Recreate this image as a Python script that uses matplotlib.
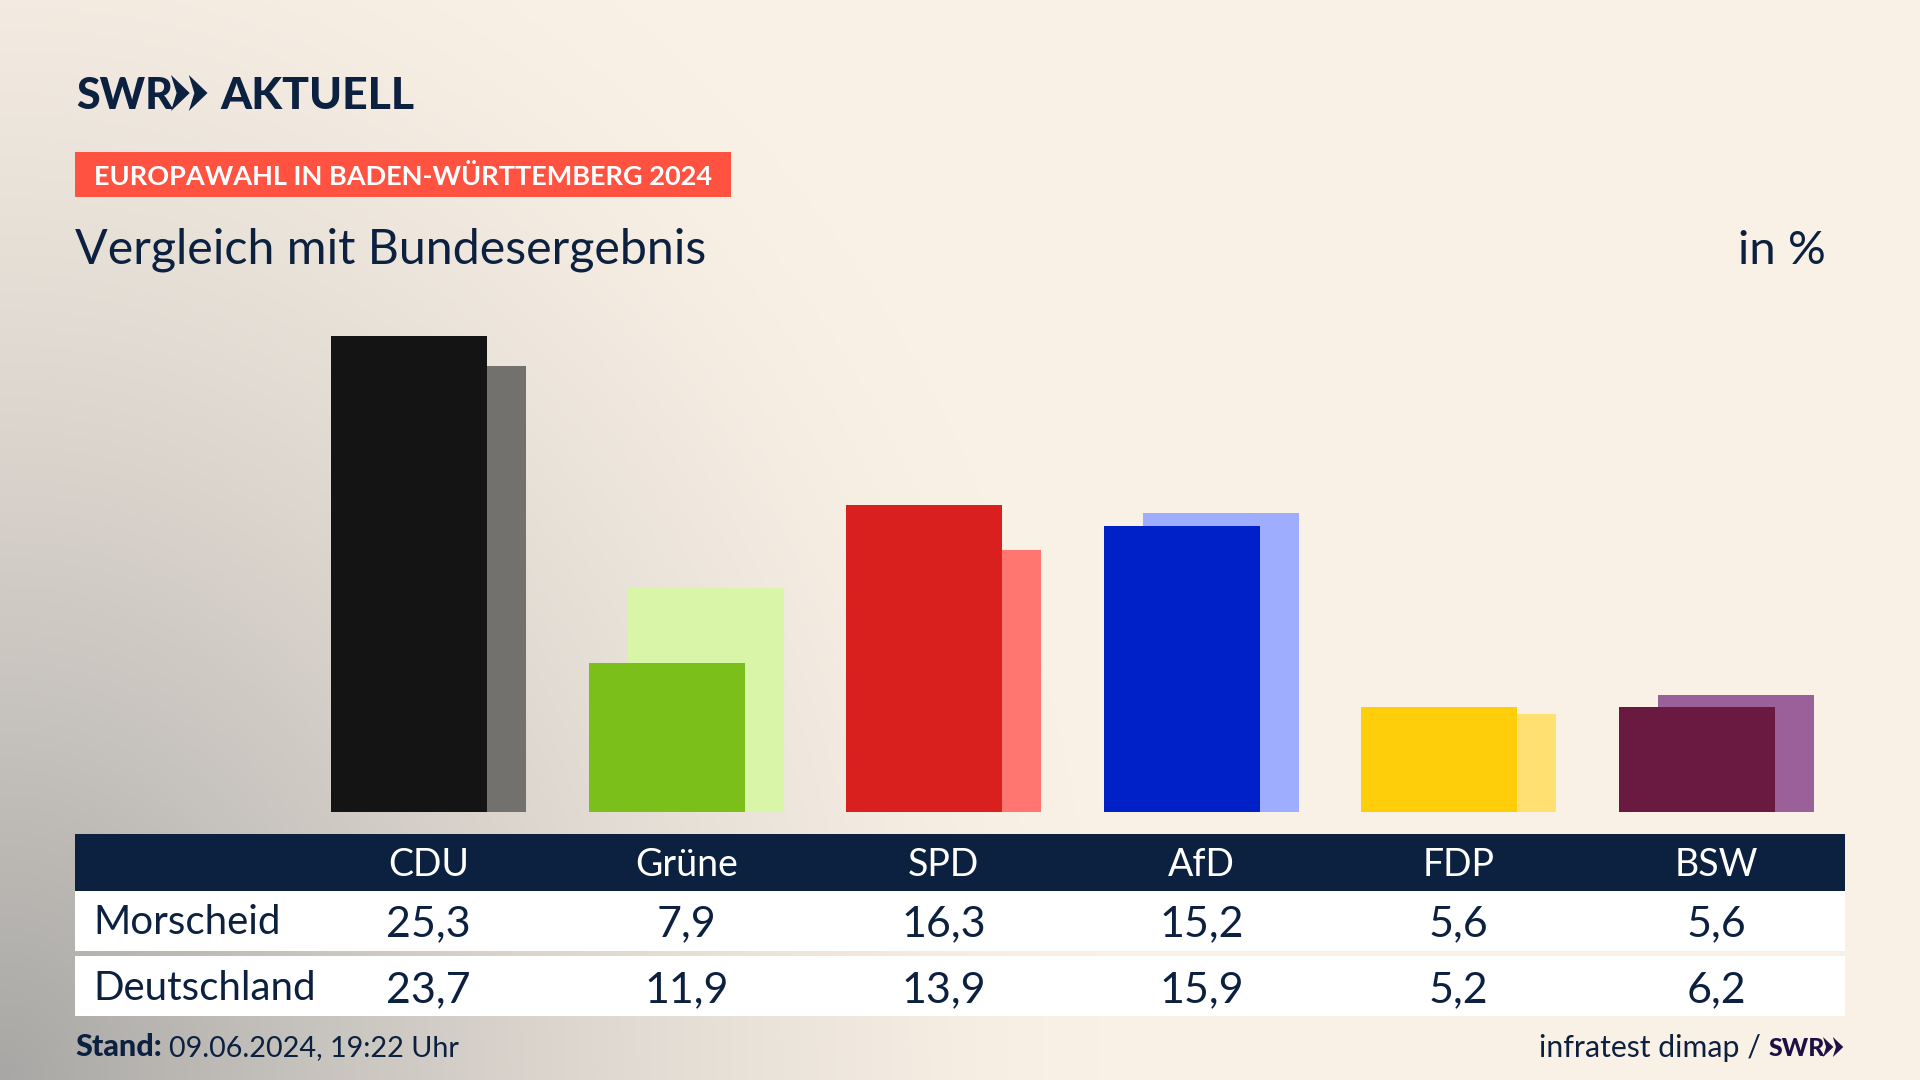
import numpy as np
import matplotlib
matplotlib.use('Agg')
import matplotlib.pyplot as plt
from matplotlib.patches import Polygon, Rectangle

parties = ['CDU', 'Grüne', 'SPD', 'AfD', 'FDP', 'BSW']
morscheid = [25.3, 7.9, 16.3, 15.2, 5.6, 5.6]
deutschland = [23.7, 11.9, 13.9, 15.9, 5.2, 6.2]
colors_front = ['#141414', '#7ABF1A', '#D9201F', '#0021C8', '#FFCE0A', '#6A1A40']
colors_back = ['#72716D', '#D8F5A8', '#FF7670', '#9FADFF', '#FFE070', '#9B6099']
row_labels = ['Morscheid', 'Deutschland']

NAVY = '#0C2040'
plt.rcParams['font.family'] = ['Lato', 'DejaVu Sans']


def fmt(v):
    return f'{v:.1f}'.replace('.', ',')


def chevrons(ax, x, y, h, color):
    # the two arrows of the SWR logo
    w = h * 0.52
    for dx in (0, w * 0.95):
        x0 = x + dx
        ax.add_patch(Polygon([(x0, y), (x0 + w, y + h * 0.5), (x0, y + h),
                              (x0 + w * 0.3, y + h * 0.5)],
                             closed=True, color=color, lw=0))


fig = plt.figure(figsize=(19.2, 10.8), dpi=100)

# background with the grey corner bottom left
bg = fig.add_axes([0, 0, 1, 1], zorder=0)
yy, xx = np.mgrid[0:1080:270j, 0:1920:480j]
dist = np.sqrt((xx / 1100) ** 2 + ((1080 - yy) / 1300) ** 2)
t = np.clip(1 - dist, 0, 1)[..., None] ** 1.4
cream = np.array([250, 241, 230]) / 255
grey = np.array([168, 167, 165]) / 255
bg.imshow(cream * (1 - t) + grey * t, extent=(0, 1920, 1080, 0), aspect='auto')
bg.axis('off')

# bars, same x scale as the table columns
left_px, right_px = 75, 1845
first_px, step_px = 428.8, 257.5
base_px, top_px = 812, 280
px_per_unit = 18.82
ax = fig.add_axes([left_px / 1920, 1 - base_px / 1080,
                   (right_px - left_px) / 1920, (base_px - top_px) / 1080], zorder=1)
ax.set_xlim((left_px - first_px) / step_px, (right_px - first_px) / step_px)
ax.set_ylim(0, (base_px - top_px) / px_per_unit)
ax.axis('off')
x = np.arange(len(parties))
bar_w = 156 / step_px
off = 19.5 / step_px
ax.bar(x + off, deutschland, bar_w, color=colors_back, zorder=1)
ax.bar(x - off, morscheid, bar_w, color=colors_front, zorder=2)

# everything else in pixel coordinates
ov = fig.add_axes([0, 0, 1, 1], zorder=2)
ov.set_xlim(0, 1920)
ov.set_ylim(1080, 0)
ov.axis('off')

ov.text(76, 109, 'SWR', fontsize=31, fontweight='black', color=NAVY)
chevrons(ov, 171, 75, 36, NAVY)
ov.text(220, 109, 'AKTUELL', fontsize=32, fontweight='black', color=NAVY)

ov.add_patch(Rectangle((75, 152), 656, 45, color='#FF5240', lw=0))
ov.text(94, 185, 'EUROPAWAHL IN BADEN-WÜRTTEMBERG 2024', fontsize=19.5,
        fontweight='bold', color='white')
ov.text(75, 264, 'Vergleich mit Bundesergebnis', fontsize=34.8, color=NAVY)
ov.text(1826, 264, 'in %', fontsize=34, color=NAVY, ha='right')

# table
ov.add_patch(Rectangle((75, 834), 1770, 57, color=NAVY, lw=0))
ov.add_patch(Rectangle((75, 891), 1770, 60, color='white', lw=0))
ov.add_patch(Rectangle((75, 956), 1770, 60, color='white', lw=0))
ov.text(93, 934, row_labels[0], fontsize=29, color=NAVY)
ov.text(93, 1000, row_labels[1], fontsize=29, color=NAVY)
for i, name in enumerate(parties):
    cx = first_px + i * step_px
    ov.text(cx, 876, name, fontsize=27, color='white', ha='center')
    ov.text(cx, 936, fmt(morscheid[i]), fontsize=31, color=NAVY, ha='center')
    ov.text(cx, 1002, fmt(deutschland[i]), fontsize=31, color=NAVY, ha='center')

# footer
ov.text(75, 1056, 'Stand:', fontsize=22, fontweight='black', color=NAVY)
ov.text(169, 1056, '09.06.2024, 19:22 Uhr', fontsize=20.7, color=NAVY)
ov.text(1761, 1057, 'infratest dimap /', fontsize=21.8, color=NAVY, ha='right')
ov.text(1769, 1056, 'SWR', fontsize=18, fontweight='black', color='#1E0F45')
chevrons(ov, 1823, 1037, 20, '#1E0F45')

fig.savefig('out.png', dpi=100)
